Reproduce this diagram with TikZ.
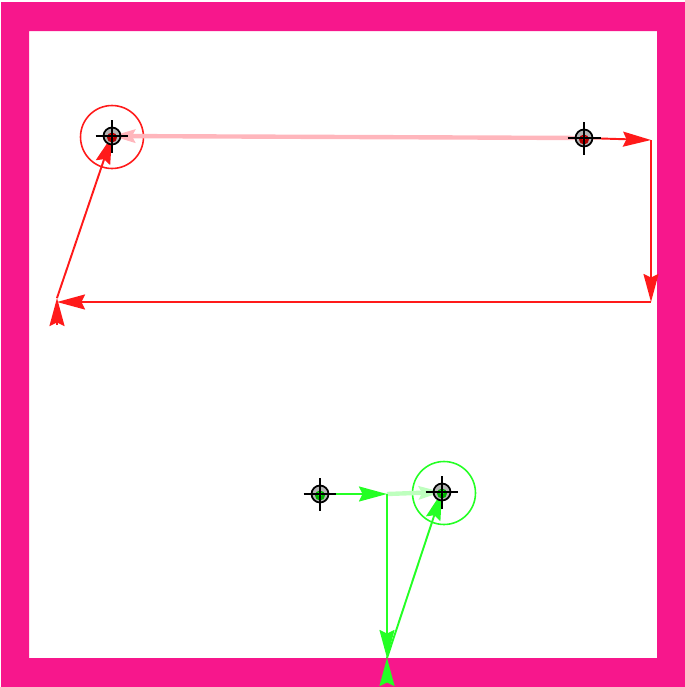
\documentclass[tikz,border=0pt]{standalone}
\usetikzlibrary{arrows.meta}

\definecolor{framepink}{HTML}{F7178C}
\definecolor{redpath}{HTML}{FF1A1A}
\definecolor{redfade}{HTML}{FFB6BC}
\definecolor{greenpath}{HTML}{24FF24}
\definecolor{greenfade}{HTML}{BEFFBE}
\definecolor{markgray}{HTML}{B4B4B4}

\begin{document}
\begin{tikzpicture}[
    x=0.02cm, y=-0.02cm,
    arr/.style={-{Stealth[length=0.56cm, width=0.3cm, inset=0.07cm]}, line width=1.1pt},
    fadearr/.style={-{Stealth[length=0.46cm, width=0.26cm, inset=0.06cm]}, line width=2.5pt},
    ring/.style={circle, draw, line width=0.9pt, minimum size=1.26cm, inner sep=0pt},
    posmark/.style={circle, fill=markgray, draw=black, line width=1pt, minimum size=0.34cm, inner sep=0pt},
]

\newcommand{\crosshair}[2]{
    \fill[#2!70!black] ([yshift=-0.03cm]#1.center) circle (0.1cm);
    \fill[#2] (#1.center) circle (0.05cm);
    \draw[line width=1pt]
        ([xshift=-0.33cm]#1.center) -- ([xshift=0.33cm]#1.center)
        ([yshift=-0.33cm]#1.center) -- ([yshift=0.33cm]#1.center);
}

\useasboundingbox (0,0) rectangle (685,687);

% Frame
\fill[framepink, even odd rule] (1,2) rectangle (685,687) (29,31) rectangle (657,658);

% Red robot
\node[ring, draw=redpath] (redring) at (112,137) {};
\coordinate (redrobot) at (112,136);
\coordinate (redgoal) at (584,138);
\coordinate (redA) at (651,140);
\coordinate (redB) at (651,302);
\coordinate (redC) at (57,302);
\coordinate (redD) at (57,298);
\coordinate (redE) at (57,325);

\draw[fadearr, redfade] (redgoal) -- (redrobot);
\draw[arr, redpath] (redgoal) -- (redA);
\draw[arr, redpath] (redA) -- (redB);
\draw[arr, redpath] (redB) -- (redC);
\draw[arr, redpath] (redE) -- (redD);
\draw[arr, redpath] (redD) -- (redrobot);

\node[posmark] (redrobotmark) at (redrobot) {};
\crosshair{redrobotmark}{red}
\node[posmark] (redgoalmark) at (redgoal) {};
\crosshair{redgoalmark}{red}

% Green robot
\node[ring, draw=greenpath] (greenring) at (444,493) {};
\coordinate (greenrobot) at (442,492);
\coordinate (greenstart) at (320,494);
\coordinate (greenA) at (387,494);
\coordinate (greenB) at (387,658);
\coordinate (greenC) at (387,681);

\draw[fadearr, greenfade] (greenA) -- (greenrobot);
\draw[arr, greenpath] (greenstart) -- (greenA);
\draw[arr, greenpath] (greenA) -- (greenB);
\draw[arr, greenpath] (greenC) -- (greenB);
\draw[arr, greenpath] (greenB) -- (greenrobot);

\node[posmark] (greenstartmark) at (greenstart) {};
\crosshair{greenstartmark}{green}
\node[posmark] (greenrobotmark) at (greenrobot) {};
\crosshair{greenrobotmark}{green}

\end{tikzpicture}
\end{document}
